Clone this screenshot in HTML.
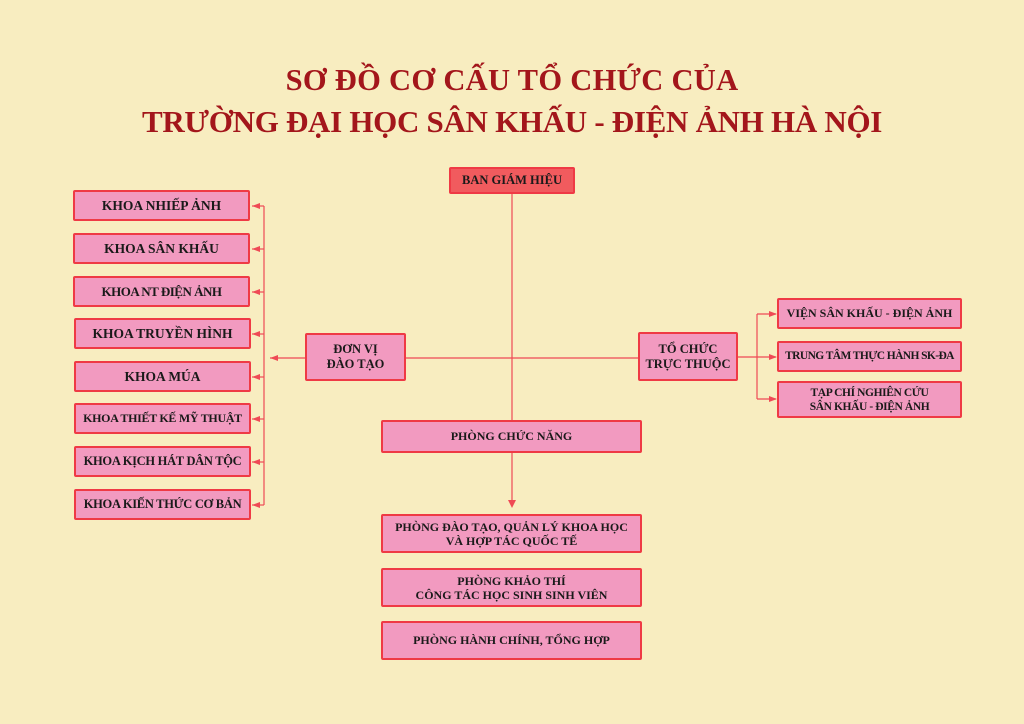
<!DOCTYPE html>
<html><head><meta charset="utf-8"><style>
body{margin:0;width:1024px;height:724px;overflow:hidden;background:#f8edc0;font-family:"Liberation Serif",serif;position:relative}
.t{position:absolute;left:0;width:1024px;text-align:center;color:#a3161b;font-weight:bold;white-space:nowrap}
.b{position:absolute;box-sizing:border-box;background:#f29ac0;border:2px solid #ef3a45;border-radius:2px;display:flex;align-items:center;justify-content:center;text-align:center;font-weight:bold;font-size:12.5px;line-height:15px;color:#1a1a1a;white-space:nowrap}
svg{position:absolute;left:0;top:0}
</style></head><body>
<div class="t" style="top:63px;font-size:30.5px;letter-spacing:0.3px">SƠ ĐỒ CƠ CẤU TỔ CHỨC CỦA</div>
<div class="t" style="top:104px;font-size:31px;letter-spacing:-0.3px">TRƯỜNG ĐẠI HỌC SÂN KHẤU - ĐIỆN ẢNH HÀ NỘI</div>
<svg width="1024" height="724" stroke="#ef4a55" stroke-width="1.2" fill="#ef4a55">
<line x1="512" y1="194" x2="512" y2="506"/>
<polygon points="508,500 516,500 512,508" stroke="none"/>
<line x1="270" y1="358" x2="638" y2="358"/>
<polygon points="270,358 278,355 278,361" stroke="none"/>
<line x1="264" y1="206" x2="264" y2="505"/>
<g stroke="none">
<polygon points="252,206 260,203 260,209"/><polygon points="252,249 260,246 260,252"/>
<polygon points="252,292 260,289 260,295"/><polygon points="252,334 260,331 260,337"/>
<polygon points="252,377 260,374 260,380"/><polygon points="252,419 260,416 260,422"/>
<polygon points="252,462 260,459 260,465"/><polygon points="252,505 260,502 260,508"/>
</g>
<g>
<line x1="252" y1="206" x2="264" y2="206"/><line x1="252" y1="249" x2="264" y2="249"/>
<line x1="252" y1="292" x2="264" y2="292"/><line x1="252" y1="334" x2="264" y2="334"/>
<line x1="252" y1="377" x2="264" y2="377"/><line x1="252" y1="419" x2="264" y2="419"/>
<line x1="252" y1="462" x2="264" y2="462"/><line x1="252" y1="505" x2="264" y2="505"/>
</g>
<line x1="738" y1="357" x2="776" y2="357"/>
<line x1="757" y1="314" x2="757" y2="399"/>
<line x1="757" y1="314" x2="776" y2="314"/><line x1="757" y1="399" x2="776" y2="399"/>
<g stroke="none">
<polygon points="777,314 769,311 769,317"/><polygon points="777,357 769,354 769,360"/><polygon points="777,399 769,396 769,402"/>
</g>
</svg>
<div class="b" style="left:449px;top:167px;width:126px;height:27px;background:#f15b5e">BAN GIÁM HIỆU</div>
<div class="b" style="left:73px;top:190px;width:177px;height:31px;font-size:13.5px">KHOA NHIẾP ẢNH</div>
<div class="b" style="left:73px;top:233px;width:177px;height:31px;font-size:13.5px">KHOA SÂN KHẤU</div>
<div class="b" style="left:73px;top:276px;width:177px;height:31px;font-size:13px;letter-spacing:-0.5px">KHOA NT ĐIỆN ẢNH</div>
<div class="b" style="left:74px;top:318px;width:177px;height:31px;font-size:13.5px">KHOA TRUYỀN HÌNH</div>
<div class="b" style="left:74px;top:361px;width:177px;height:31px;font-size:13.5px">KHOA MÚA</div>
<div class="b" style="left:74px;top:403px;width:177px;height:31px;font-size:12px;letter-spacing:-0.3px">KHOA THIẾT KẾ MỸ THUẬT</div>
<div class="b" style="left:74px;top:446px;width:177px;height:31px;font-size:12.5px;letter-spacing:-0.3px">KHOA KỊCH HÁT DÂN TỘC</div>
<div class="b" style="left:74px;top:489px;width:177px;height:31px;font-size:12.5px;letter-spacing:-0.3px">KHOA KIẾN THỨC CƠ BẢN</div>
<div class="b" style="left:305px;top:333px;width:101px;height:48px">ĐƠN VỊ<br>ĐÀO TẠO</div>
<div class="b" style="left:638px;top:332px;width:100px;height:49px">TỔ CHỨC<br>TRỰC THUỘC</div>
<div class="b" style="left:777px;top:298px;width:185px;height:31px;font-size:12px">VIỆN SÂN KHẤU - ĐIỆN ẢNH</div>
<div class="b" style="left:777px;top:341px;width:185px;height:31px;font-size:11.5px;letter-spacing:-0.6px">TRUNG TÂM THỰC HÀNH SK-ĐA</div>
<div class="b" style="left:777px;top:381px;width:185px;height:37px;font-size:11.5px;line-height:14px;letter-spacing:-0.4px">TẠP CHÍ NGHIÊN CỨU<br>SÂN KHẤU - ĐIỆN ẢNH</div>
<div class="b" style="left:381px;top:420px;width:261px;height:33px;font-size:12px">PHÒNG CHỨC NĂNG</div>
<div class="b" style="left:381px;top:514px;width:261px;height:39px;font-size:12px;line-height:14px">PHÒNG ĐÀO TẠO, QUẢN LÝ KHOA HỌC<br>VÀ HỢP TÁC QUỐC TẾ</div>
<div class="b" style="left:381px;top:568px;width:261px;height:39px;font-size:12px;line-height:14px">PHÒNG KHẢO THÍ<br>CÔNG TÁC HỌC SINH SINH VIÊN</div>
<div class="b" style="left:381px;top:621px;width:261px;height:39px;font-size:12px">PHÒNG HÀNH CHÍNH, TỔNG HỢP</div>
</body></html>
